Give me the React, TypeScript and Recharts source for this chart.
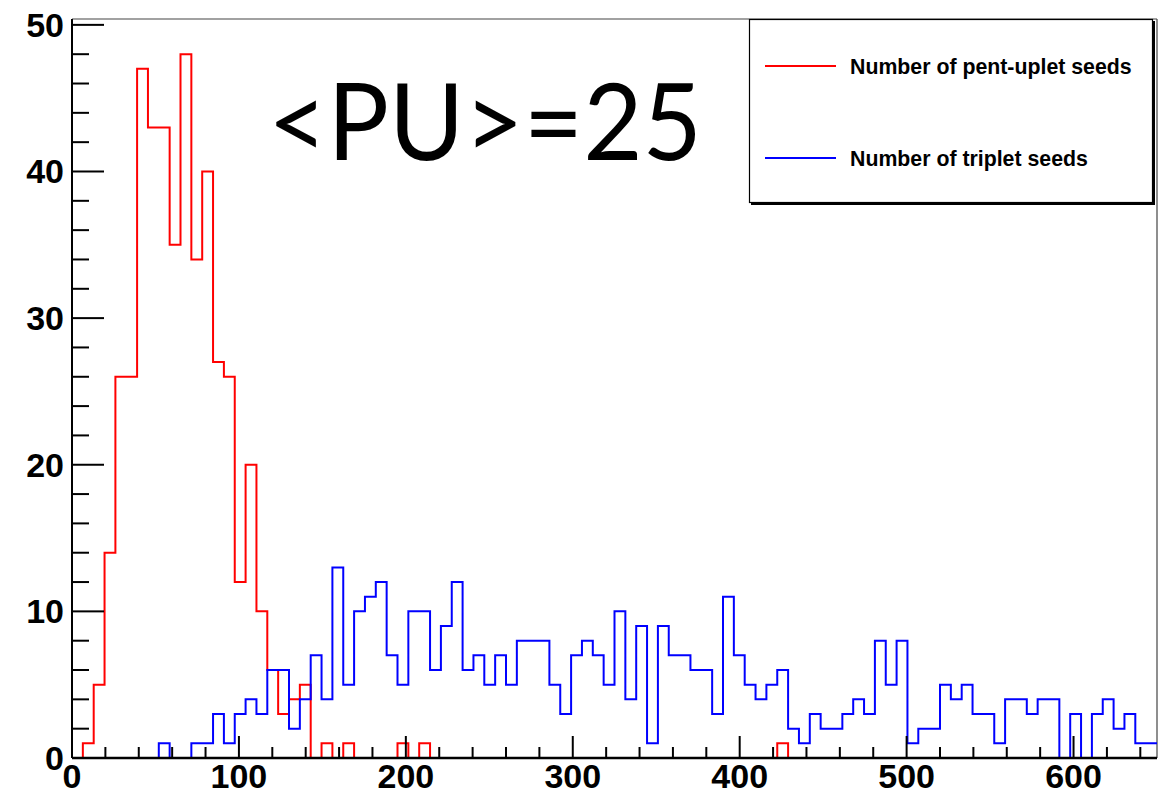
import { ComposedChart, Line, XAxis, YAxis, ReferenceLine } from "recharts";

// bin contents, 100 bins of width 6.5 from 0 to 650
const PENT_COUNTS = [
  0, 1, 5, 14, 26, 26, 47, 43, 43, 35,
  48, 34, 40, 27, 26, 12, 20, 10, 6, 3,
  4, 5, 0, 1, 0, 1, 0, 0, 0, 0,
  1, 0, 1, 0, 0, 0, 0, 0, 0, 0,
  0, 0, 0, 0, 0, 0, 0, 0, 0, 0,
  0, 0, 0, 0, 0, 0, 0, 0, 0, 0,
  0, 0, 0, 0, 0, 1, 0, 0, 0, 0,
  0, 0, 0, 0, 0, 0, 0, 0, 0, 0,
  0, 0, 0, 0, 0, 0, 0, 0, 0, 0,
  0, 0, 0, 0, 0, 0, 0, 0, 0, 0,
];

const TRIPLET_COUNTS = [
  0, 0, 0, 0, 0, 0, 0, 0, 1, 0,
  0, 1, 1, 3, 1, 3, 4, 3, 6, 6,
  2, 4, 7, 4, 13, 5, 10, 11, 12, 7,
  5, 10, 10, 6, 9, 12, 6, 7, 5, 7,
  5, 8, 8, 8, 5, 3, 7, 8, 7, 5,
  10, 4, 9, 1, 9, 7, 7, 6, 6, 3,
  11, 7, 5, 4, 5, 6, 2, 1, 3, 2,
  2, 3, 4, 3, 8, 5, 8, 1, 2, 2,
  5, 4, 5, 3, 3, 1, 4, 4, 3, 4,
  4, 0, 3, 0, 3, 4, 2, 3, 1, 1,
];

const X_MIN = 0;
const X_MAX = 650;
const Y_MAX = 50.4;

const X_TICKS = [0, 20, 40, 60, 80, 100, 120, 140, 160, 180, 200, 220, 240, 260, 280, 300, 320, 340, 360, 380, 400, 420, 440, 460, 480, 500, 520, 540, 560, 580, 600, 620, 640];
const Y_TICKS = [0, 2, 4, 6, 8, 10, 12, 14, 16, 18, 20, 22, 24, 26, 28, 30, 32, 34, 36, 38, 40, 42, 44, 46, 48, 50];

const SERIES_NAMES = ["Number of pent-uplet seeds", "Number of triplet seeds"];
const SERIES_COLORS = ["#ff0000", "#0000ff"];
const TITLE = "<PU>=25";

const binWidth = (X_MAX - X_MIN) / PENT_COUNTS.length;

// step data: one point per bin low edge, plus closing point at the upper edge
const data = PENT_COUNTS.map((v, i) => ({
  x: X_MIN + i * binWidth,
  pent: v,
  triplet: TRIPLET_COUNTS[i],
}));
data.push({
  x: X_MAX,
  pent: PENT_COUNTS[PENT_COUNTS.length - 1],
  triplet: TRIPLET_COUNTS[TRIPLET_COUNTS.length - 1],
});

const labelFont = {
  fontFamily: "'Liberation Sans', Arial, sans-serif",
  fontWeight: 700,
  fontSize: 34,
  fill: "#000",
};

function YTick(props: any) {
  const { x, y, payload } = props;
  const major = payload.value % 10 === 0;
  return (
    <g>
      <line x1={x} y1={y} x2={x + (major ? 32 : 17)} y2={y} stroke="#000" strokeWidth={2} />
      {major && (
        <text x={x - 8} y={y + 12} textAnchor="end" {...labelFont}>
          {payload.value}
        </text>
      )}
    </g>
  );
}

function XTick(props: any) {
  const { x, y, payload } = props;
  const major = payload.value % 100 === 0;
  return (
    <g>
      <line x1={x} y1={y} x2={x} y2={y - (major ? 22 : 11)} stroke="#000" strokeWidth={2} />
      {major && (
        <text x={x} y={y + 30} textAnchor="middle" {...labelFont}>
          {payload.value}
        </text>
      )}
    </g>
  );
}

export default function App() {
  return (
    <div style={{ position: "absolute", left: 0, top: 0, width: 1168, height: 795, background: "#fff", overflow: "hidden" }}>
      <ComposedChart width={1168} height={795} data={data} margin={{ top: 19, right: 11, left: 0, bottom: 0 }}>
        <XAxis
          dataKey="x"
          type="number"
          domain={[X_MIN, X_MAX]}
          ticks={X_TICKS}
          interval={0}
          height={37}
          tickSize={0}
          tickMargin={0}
          tickLine={false}
          axisLine={{ stroke: "#000", strokeWidth: 2.5 }}
          tick={<XTick />}
          allowDataOverflow
        />
        <YAxis
          type="number"
          domain={[0, Y_MAX]}
          ticks={Y_TICKS}
          interval={0}
          width={72}
          tickSize={0}
          tickMargin={0}
          tickLine={false}
          axisLine={{ stroke: "#000", strokeWidth: 2 }}
          tick={<YTick />}
          allowDataOverflow
        />
        <ReferenceLine y={Y_MAX} stroke="#444" strokeWidth={1.2} />
        <ReferenceLine x={X_MAX} stroke="#444" strokeWidth={1.2} />
        <Line
          type="stepAfter"
          dataKey="pent"
          stroke={SERIES_COLORS[0]}
          strokeWidth={2}
          dot={false}
          activeDot={false}
          isAnimationActive={false}
        />
        <Line
          type="stepAfter"
          dataKey="triplet"
          stroke={SERIES_COLORS[1]}
          strokeWidth={2}
          dot={false}
          activeDot={false}
          isAnimationActive={false}
        />
      </ComposedChart>

      <svg width={1168} height={795} style={{ position: "absolute", left: 0, top: 0, pointerEvents: "none" }}>
        {/* title */}
        <text
          x={268}
          y={160}
          fontFamily="Lato, 'Open Sans', sans-serif"
          fontSize={107}
          textLength={434}
          lengthAdjust="spacingAndGlyphs"
          fill="#000"
        >
          {TITLE}
        </text>

        {/* legend box with small shadow */}
        <rect x={751} y={21} width={404} height={184} fill="#000" />
        <rect x={749.5} y={19.5} width={403} height={183} fill="#fff" stroke="#000" strokeWidth={1.2} />
        {SERIES_NAMES.map((name, i) => {
          const cy = 66 + i * 92;
          return (
            <g key={name}>
              <line x1={765} y1={cy} x2={836} y2={cy} stroke={SERIES_COLORS[i]} strokeWidth={2} />
              <text
                x={850}
                y={cy + 7.5}
                fontFamily="'Liberation Sans', Arial, sans-serif"
                fontWeight={700}
                fontSize={21.3}
                fill="#000"
              >
                {name}
              </text>
            </g>
          );
        })}
      </svg>
    </div>
  );
}
